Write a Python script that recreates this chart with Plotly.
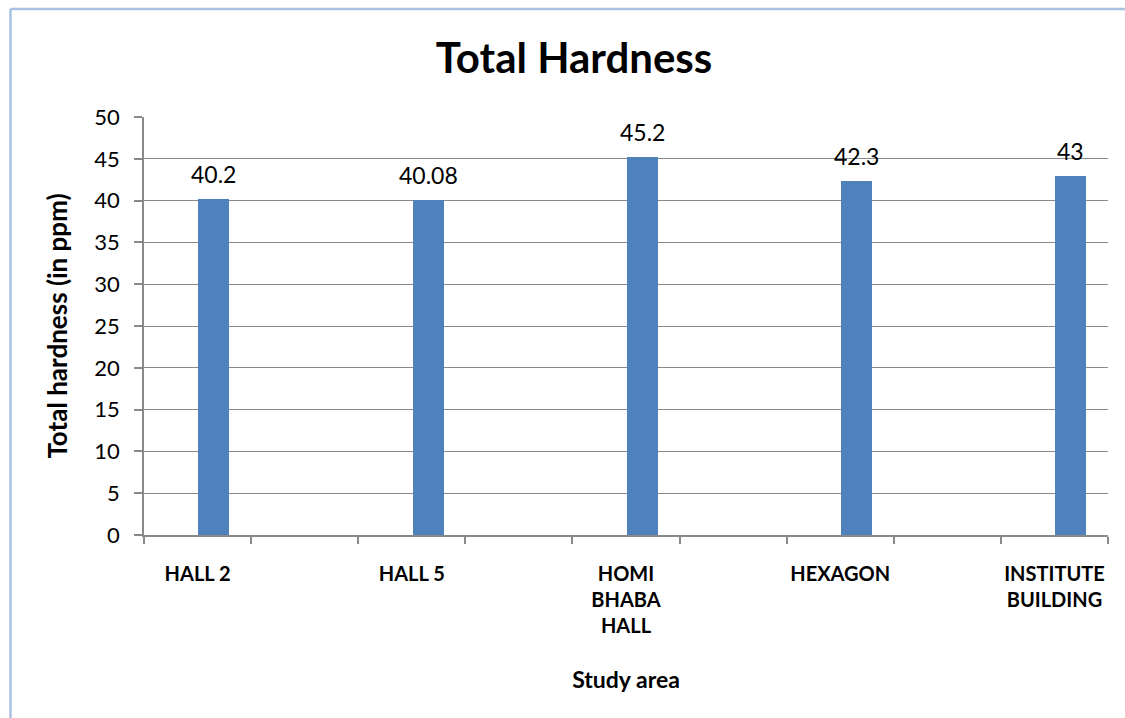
import plotly.graph_objects as go

sites = ["HALL 2", "HALL 5", "HOMI<br>BHABA<br>HALL", "HEXAGON", "INSTITUTE<br>BUILDING"]
hardness = [40.2, 40.08, 45.2, 42.3, 43]
value_labels = ["40.2", "40.08", "45.2", "42.3", "43"]
y_ticks = [0, 5, 10, 15, 20, 25, 30, 35, 40, 45, 50]

# each site occupies every other slot on the category scale (blank slots between)
slots = [2 * i for i in range(len(sites))]
BAR_W = 0.29
BAR_OFF = 0.007

FONT = "Lato, Carlito, Calibri, sans-serif"

fig = go.Figure()
fig.add_trace(go.Bar(
    x=slots,
    y=hardness,
    width=BAR_W,
    offset=BAR_OFF,
    marker=dict(color="#4f81bd", line=dict(width=0)),
    showlegend=False,
    hoverinfo="x+y",
))

annotations = [
    dict(x=s + BAR_OFF + BAR_W / 2, y=v, xref="x", yref="y", text=t,
         showarrow=False, yanchor="middle", yshift=25,
         font=dict(family=FONT, size=23, color="#000000"))
    for s, v, t in zip(slots, hardness, value_labels)
]

fig.update_layout(
    width=1125,
    height=718,
    paper_bgcolor="white",
    plot_bgcolor="white",
    margin=dict(l=144, r=17, t=117, b=183),
    font=dict(family=FONT, color="#000000"),
    title=dict(
        text="<b>Total Hardness</b>",
        font=dict(family=FONT, size=42, color="#000000"),
        x=574 / 1125, xref="container", xanchor="center",
        y=1 - 58 / 718, yref="container", yanchor="middle",
    ),
    bargap=0,
    annotations=annotations,
    shapes=[
        dict(type="line", xref="paper", yref="paper",
             x0=-0.1385, x1=-0.1385, y0=-0.5, y1=1.2584,
             line=dict(color="#aac1e2", width=2.5)),
        dict(type="line", xref="paper", yref="paper",
             x0=-0.1385, x1=1.05, y0=1.2584, y1=1.2584,
             line=dict(color="#aac1e2", width=2.5)),
    ],
)

fig.update_xaxes(
    range=[-0.5, 8.5],
    tickvals=slots,
    ticktext=["<b>%s</b>" % s for s in sites],
    tickfont=dict(family=FONT, size=20, color="#000000"),
    ticks="",
    showline=True,
    linecolor="#898989",
    linewidth=1.5,
    showgrid=False,
    zeroline=False,
    ticklabelstandoff=20,
    minor=dict(tick0=-0.5, dtick=1, ticks="outside", ticklen=7,
               tickcolor="#898989", tickwidth=1.5, showgrid=False),
    title=dict(text="<b>Study area</b>", font=dict(family=FONT, size=23, color="#000000"),
               standoff=36),
)

fig.update_yaxes(
    range=[0, 50],
    tickvals=y_ticks,
    tickfont=dict(family=FONT, size=22, color="#000000"),
    ticks="outside",
    ticklen=8,
    tickcolor="#898989",
    tickwidth=1.5,
    ticklabelstandoff=10,
    showline=True,
    linecolor="#898989",
    linewidth=1.5,
    showgrid=True,
    gridcolor="#898989",
    gridwidth=1.2,
    zeroline=False,
    title=dict(text="<b>Total hardness (in ppm)</b>", font=dict(family=FONT, size=26, color="#000000"),
               standoff=19),
)

fig.write_html("out.html")
